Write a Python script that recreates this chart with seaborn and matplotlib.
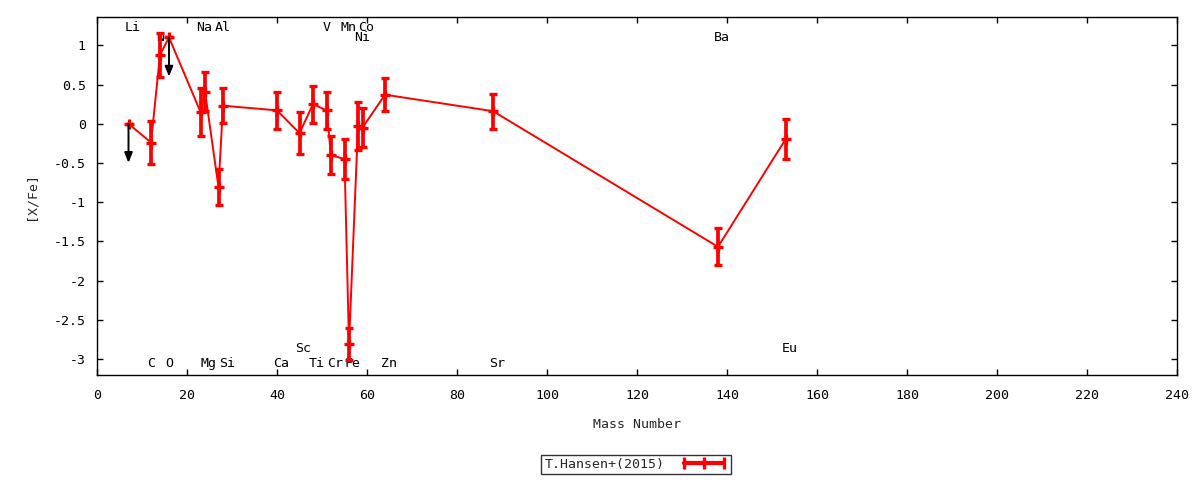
import matplotlib
matplotlib.use("Agg")
import matplotlib.pyplot as plt
from matplotlib.lines import Line2D
import seaborn as sns
import pandas as pd

# ---------------- data ----------------
elements = ['Li', 'C', 'N', 'O', 'Na', 'Mg', 'Al', 'Si', 'Ca', 'Sc', 'Ti', 'V',
            'Cr', 'Mn', 'Fe', 'Ni', 'Co', 'Zn', 'Sr', 'Ba', 'Eu']
mass = [7, 12, 14, 16, 23, 24, 27, 28, 40, 45, 48, 51, 52, 55, 56, 58, 59, 64, 88, 138, 153]
xfe = [0.00, -0.24, 0.88, 1.10, 0.15, 0.41, -0.81, 0.23, 0.17, -0.12, 0.25, 0.17,
       -0.40, -0.45, -2.81, -0.03, -0.05, 0.37, 0.16, -1.57, -0.20]
err = [0.0, 0.28, 0.28, 0.0, 0.31, 0.25, 0.23, 0.22, 0.235, 0.27, 0.235, 0.235,
       0.24, 0.255, 0.21, 0.305, 0.25, 0.21, 0.225, 0.235, 0.255]

# upper limits (arrows)
limit_mass = [7, 16]
limit_from = [0.00, 1.10]
limit_to = [-0.50, 0.60]

# element labels along top / bottom
label_text = ['Li', 'Na', 'Al', 'V', 'Mn', 'Co',
              'N', 'Ni', 'Ba',
              'C', 'O', 'Mg', 'Si', 'Ca', 'Ti', 'Cr', 'Fe', 'Zn', 'Sr',
              'Sc', 'Eu']
label_mass = [7, 23, 27, 51, 55, 59,
              14, 58, 138,
              12, 16, 24, 28, 40, 48, 52, 56, 64, 88,
              45, 153]
label_row = ['top1'] * 6 + ['top2'] * 3 + ['bot1'] * 10 + ['bot2'] * 2

xticks = [0, 20, 40, 60, 80, 100, 120, 140, 160, 180, 200, 220, 240]
yticks = [1, 0.5, 0, -0.5, -1, -1.5, -2, -2.5, -3]
series_name = 'T.Hansen+(2015)'

# ---------------- style ----------------
sns.set_theme(style='ticks')
plt.rcParams['font.family'] = ['DejaVu Sans Mono', 'DejaVu Sans']
plt.rcParams['axes.unicode_minus'] = False
FS = 9.5

df = pd.DataFrame({'Mass Number': mass, '[X/Fe]': xfe, 'err': err})

fig = plt.figure(figsize=(12, 4.8), dpi=100)
ax = fig.add_axes([97 / 1200, 1 - 375 / 480, 1080 / 1200, 358 / 480])

red = '#ff0000'
sns.lineplot(data=df, x='Mass Number', y='[X/Fe]', ax=ax, color=red,
             linewidth=1.4, estimator=None, sort=False, zorder=3)
ax.errorbar(df['Mass Number'], df['[X/Fe]'], yerr=df['err'], fmt='+',
            color=red, ecolor=red, elinewidth=2.7, capsize=3.2, capthick=2.4,
            markersize=6.5, markeredgewidth=2.4, zorder=4)

for m, y0, y1 in zip(limit_mass, limit_from, limit_to):
    ax.annotate('', xy=(m, y1), xytext=(m, y0),
                arrowprops=dict(arrowstyle='-|>,head_length=0.5,head_width=0.2',
                                color='black', lw=1.4, shrinkA=0, shrinkB=0),
                zorder=5)

row_y = {'top1': 1.18, 'top2': 1.058, 'bot1': -3.10, 'bot2': -2.918}
for t, m, r in zip(label_text, label_mass, label_row):
    ax.text(m - 0.9, row_y[r], t, ha='left', va='baseline', fontsize=FS,
            color='black', zorder=1)

ax.set_xlim(0, 240)
ax.set_ylim(-3.205, 1.361)
ax.set_xticks(xticks)
ax.set_xticklabels([str(v) for v in xticks])
ax.set_yticks(yticks)
ax.set_yticklabels([('%g' % v) for v in yticks])
ax.tick_params(direction='in', length=4, width=1, top=True, right=True,
               labelsize=FS, colors='black')
ax.tick_params(axis='x', pad=10)
ax.tick_params(axis='y', pad=8)
for s in ax.spines.values():
    s.set_visible(True)
    s.set_linewidth(1)
    s.set_color('black')
ax.set_xlabel('Mass Number', fontsize=FS, labelpad=11.5)
ax.set_ylabel('[X/Fe]', fontsize=FS, labelpad=11.5)

handle = Line2D([0], [0], color=red, linewidth=3.0, marker='|', markersize=8,
                markeredgewidth=2.4)
leg = fig.legend([handle], [series_name], loc='center',
                 bbox_to_anchor=(636 / 1200, 1 - 464.5 / 480), frameon=True,
                 fancybox=False, edgecolor='black', fontsize=FS, markerfirst=False,
                 numpoints=3, handlelength=3.6, borderpad=0.25, handletextpad=1.2,
                 borderaxespad=0)
leg.get_frame().set_linewidth(1)

fig.savefig('out.png', dpi=100)
